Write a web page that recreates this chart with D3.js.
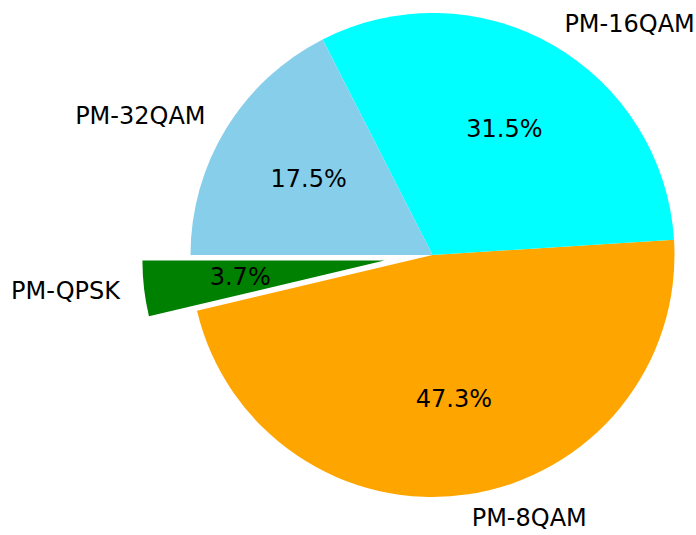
<!DOCTYPE html>
<html>
<head>
<meta charset="utf-8">
<script src="https://cdn.jsdelivr.net/npm/d3@7"></script>
<style>
  html, body { margin: 0; padding: 0; background: #fff; }
  text { font-family: "DejaVu Sans", sans-serif; }
</style>
</head>
<body>
<svg id="chart" width="696" height="535"></svg>
<script>
// Share of modulation formats
const labels = ["PM-QPSK", "PM-8QAM", "PM-16QAM", "PM-32QAM"];
const shares = [3.7, 47.3, 31.5, 17.5];
const colors = ["green", "orange", "cyan", "skyblue"];
const explode = [0.2, 0, 0, 0];

const cx = 432.5, cy = 255, radius = 242;
const fontSize = 24;

const svg = d3.select("#chart");
const total = d3.sum(shares);

// Slices run counter-clockwise starting from 9 o'clock
const startDeg = 180;
const angle = d3.scaleLinear().domain([0, total]).range([startDeg, startDeg + 360]);

let acc = 0;
const slices = shares.map((v, i) => {
  const a0 = angle(acc);
  acc += v;
  const a1 = angle(acc);
  return { label: labels[i], value: v, color: colors[i], explode: explode[i], a0, a1 };
});

const rad = d => d * Math.PI / 180;
// convert math-angle (deg, ccw from +x) to d3.arc angle (rad, cw from 12 o'clock)
const toArc = d => rad(90 - d);

const arc = d3.arc().innerRadius(0).outerRadius(radius);

slices.forEach(s => {
  const mid = (s.a0 + s.a1) / 2;
  const ox = cx + s.explode * radius * Math.cos(rad(mid));
  const oy = cy - s.explode * radius * Math.sin(rad(mid));
  const g = svg.append("g").attr("transform", `translate(${ox},${oy})`);

  g.append("path")
    .attr("d", arc({ startAngle: toArc(s.a1), endAngle: toArc(s.a0) }))
    .attr("fill", s.color);

  // category label outside the wedge
  const lx = 1.1 * radius * Math.cos(rad(mid));
  const ly = -1.1 * radius * Math.sin(rad(mid));
  g.append("text")
    .attr("x", lx).attr("y", ly)
    .attr("text-anchor", lx > 0 ? "start" : "end")
    .attr("dominant-baseline", "central")
    .attr("font-size", fontSize)
    .attr("fill", "#000")
    .text(s.label);

  // percentage inside the wedge
  const px = 0.6 * radius * Math.cos(rad(mid));
  const py = -0.6 * radius * Math.sin(rad(mid));
  g.append("text")
    .attr("x", px).attr("y", py)
    .attr("text-anchor", "middle")
    .attr("dominant-baseline", "central")
    .attr("font-size", fontSize)
    .attr("fill", "#000")
    .text(s.value.toFixed(1) + "%");
});
</script>
</body>
</html>
